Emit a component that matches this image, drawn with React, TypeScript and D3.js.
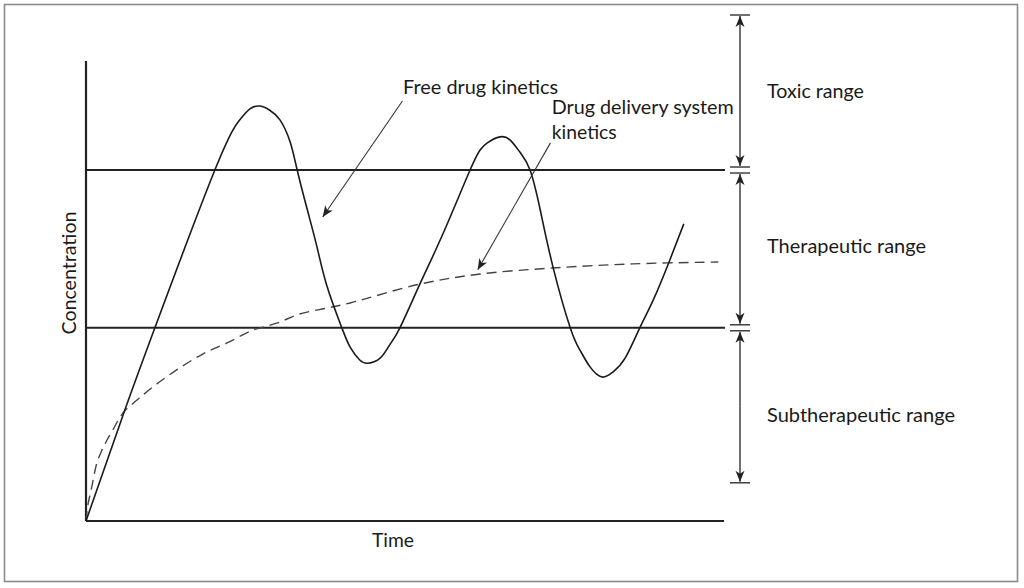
import React from "react";
import * as d3 from "d3";

// ---- data (time units 0..10, concentration units 0..10) ----
const freeTime = [0, 0.58, 1.08, 2.02, 2.41, 2.57, 2.73, 2.88, 3.04, 3.20, 3.31, 3.47, 3.62, 3.78, 4.01, 4.14, 4.29, 4.42, 4.61, 4.76, 4.92, 5.24, 5.60, 6.02, 6.18, 6.29, 6.49, 6.65, 6.80, 6.96, 7.12, 7.32, 7.59, 7.74, 7.90, 8.09, 8.26, 8.45, 8.68, 8.89, 9.15, 9.37];
const freeConc = [0, 2.30, 4.20, 7.63, 8.72, 8.96, 9.02, 8.93, 8.72, 8.24, 7.63, 6.76, 5.96, 5.09, 4.20, 3.78, 3.50, 3.43, 3.54, 3.83, 4.20, 5.17, 6.26, 7.63, 8.07, 8.22, 8.35, 8.28, 8.02, 7.63, 6.76, 5.52, 4.20, 3.72, 3.35, 3.13, 3.24, 3.54, 4.20, 4.80, 5.67, 6.46];

const ddsTime = [0, 0.03, 0.09, 0.17, 0.25, 0.33, 0.42, 0.58, 0.80, 1.11, 1.47, 1.83, 2.21, 2.62, 2.99, 3.35, 3.78, 4.14, 5.23, 6.18, 7.32, 8.57, 9.91];
const ddsConc = [0, 0.35, 0.74, 1.26, 1.54, 1.76, 1.98, 2.35, 2.63, 2.98, 3.33, 3.63, 3.87, 4.15, 4.30, 4.50, 4.63, 4.74, 5.15, 5.37, 5.50, 5.59, 5.63];

const toxicTop = 11.0;
const therapeuticMax = 7.63;
const therapeuticMin = 4.2;
const subBottom = 0.83;

const rangeLabels = ["Toxic range", "Therapeutic range", "Subtherapeutic range"];
const rangeHi = [toxicTop, therapeuticMax, therapeuticMin];
const rangeLo = [therapeuticMax, therapeuticMin, subBottom];
const rangeLabelLevel = [9.35, 5.98, 2.30];
const rangeLabelWidth = [97, 159, 188];

const xAxisLabel = "Time";
const yAxisLabel = "Concentration";

const W = 1024;
const H = 588;
const FONT = "Lato, 'Open Sans', sans-serif";

export default function App() {
  const x = d3.scaleLinear().domain([0, 10]).range([86, 724]);
  const y = d3.scaleLinear().domain([0, 10]).range([521, 61]);

  const freeLine = d3
    .line<[number, number]>()
    .x((d) => x(d[0]))
    .y((d) => y(d[1]))
    .curve(d3.curveNatural);
  const ddsLine = d3
    .line<[number, number]>()
    .x((d) => x(d[0]))
    .y((d) => y(d[1]))
    .curve(d3.curveCatmullRom.alpha(0.5));

  const freePts: [number, number][] = freeTime.map((t, i) => [t, freeConc[i]]);
  const ddsPts: [number, number][] = ddsTime.map((t, i) => [t, ddsConc[i]]);

  const dimX = 740;
  const gap = 3;

  const freeLabelT = 4.97, freeLabelC = 9.28;
  const freeArrowFrom: [number, number] = [4.96, 9.13];
  const freeArrowTo: [number, number] = [3.71, 6.61];
  const ddsLabelT = 7.3, ddsLabelC = 8.30;
  const ddsArrowFrom: [number, number] = [7.28, 8.22];
  const ddsArrowTo: [number, number] = [6.14, 5.46];

  const textStyle = { fontFamily: FONT, fontSize: 19, fill: "#1a1a1a" } as const;

  return (
    <div style={{ position: "absolute", left: 0, top: 0 }}>
      <svg width={W} height={H} viewBox={`0 0 ${W} ${H}`} style={{ display: "block", background: "#fff" }}>
        <defs>
          <marker id="ah" viewBox="-12 -6 14 12" refX="0" refY="0" markerWidth="14" markerHeight="12" markerUnits="userSpaceOnUse" orient="auto">
            <path d="M-11,-4.5 L0,0 L-11,4.5 L-8,0 Z" fill="#222" />
          </marker>
        </defs>
        <rect x={4.5} y={4.5} width={1013} height={577} fill="none" stroke="#8a8a8a" strokeWidth={1.6} />

        {/* axes */}
        <line x1={x(0)} y1={y(0)} x2={x(0)} y2={y(10)} stroke="#222" strokeWidth={2.2} />
        <line x1={x(0)} y1={y(0)} x2={x(10)} y2={y(0)} stroke="#222" strokeWidth={2.2} />

        {/* therapeutic window limits */}
        {[therapeuticMax, therapeuticMin].map((v, i) => (
          <line key={i} x1={x(0)} y1={y(v)} x2={x(10) + 1} y2={y(v)} stroke="#222" strokeWidth={2} />
        ))}

        {/* curves */}
        <path d={ddsLine(ddsPts) || ""} fill="none" stroke="#444" strokeWidth={1.4} strokeDasharray="10,6" />
        <path d={freeLine(freePts) || ""} fill="none" stroke="#1a1a1a" strokeWidth={1.6} />

        {/* range dimension arrows */}
        {rangeLabels.map((lab, i) => {
          const top = y(rangeHi[i]) + (i === 0 ? 0 : gap);
          const bot = y(rangeLo[i]) - (i === 2 ? 0 : gap);
          return (
            <g key={lab}>
              <line x1={dimX - 10} x2={dimX + 10} y1={top} y2={top} stroke="#222" strokeWidth={1.3} />
              <line x1={dimX - 10} x2={dimX + 10} y1={bot} y2={bot} stroke="#222" strokeWidth={1.3} />
              <line x1={dimX} x2={dimX} y1={(top + bot) / 2} y2={top + 1} stroke="#222" strokeWidth={1.3} markerEnd="url(#ah)" />
              <line x1={dimX} x2={dimX} y1={(top + bot) / 2} y2={bot - 1} stroke="#222" strokeWidth={1.3} markerEnd="url(#ah)" />
              <text x={767} y={y(rangeLabelLevel[i]) + 7} textLength={rangeLabelWidth[i]} lengthAdjust="spacingAndGlyphs" style={textStyle}>
                {lab}
              </text>
            </g>
          );
        })}

        {/* annotations */}
        <line x1={x(freeArrowFrom[0])} y1={y(freeArrowFrom[1])} x2={x(freeArrowTo[0])} y2={y(freeArrowTo[1])} stroke="#333" strokeWidth={1.1} markerEnd="url(#ah)" />
        <text x={x(freeLabelT)} y={y(freeLabelC)} textLength={155} lengthAdjust="spacingAndGlyphs" style={textStyle}>
          Free drug kinetics
        </text>
        <line x1={x(ddsArrowFrom[0])} y1={y(ddsArrowFrom[1])} x2={x(ddsArrowTo[0])} y2={y(ddsArrowTo[1])} stroke="#333" strokeWidth={1.1} markerEnd="url(#ah)" />
        <text x={x(ddsLabelT)} y={y(ddsLabelC) - 25} textLength={182} lengthAdjust="spacingAndGlyphs" style={textStyle}>
          Drug delivery system
        </text>
        <text x={x(ddsLabelT)} y={y(ddsLabelC)} textLength={65} lengthAdjust="spacingAndGlyphs" style={textStyle}>
          kinetics
        </text>

        {/* axis titles */}
        <text x={393} y={547} textAnchor="middle" textLength={42} lengthAdjust="spacingAndGlyphs" style={textStyle}>
          {xAxisLabel}
        </text>
        <text transform={`translate(76, 273) rotate(-90)`} textAnchor="middle" textLength={123} lengthAdjust="spacingAndGlyphs" style={textStyle}>
          {yAxisLabel}
        </text>
      </svg>
    </div>
  );
}
